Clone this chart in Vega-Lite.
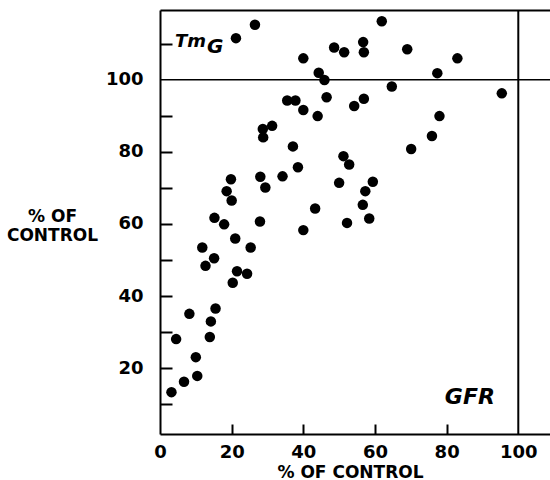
{
  "$schema": "https://vega.github.io/schema/vega-lite/v6.json",
  "width": 390,
  "height": 424,
  "autosize": "none",
  "padding": {"left": 160, "top": 10, "right": 0, "bottom": 46},
  "background": "white",
  "config": {
    "view": {"stroke": null},
    "font": "DejaVu Sans",
    "axis": {"grid": false, "domainColor": "black", "tickColor": "black", "labelColor": "black", "titleColor": "black", "labelFont": "DejaVu Sans", "titleFont": "DejaVu Sans", "labelFontWeight": "bold", "titleFontWeight": "bold"}
  },
  "resolve": {"axis": {"x": "independent", "y": "independent"}},
  "layer": [
    {
      "data": {"values": [
        {"x": 21.2, "y": 111.5}, {"x": 26.5, "y": 115.2}, {"x": 40.0, "y": 105.9}, {"x": 48.6, "y": 108.9},
        {"x": 44.3, "y": 101.9}, {"x": 45.9, "y": 99.9}, {"x": 35.5, "y": 94.2}, {"x": 37.8, "y": 94.2},
        {"x": 46.5, "y": 95.1}, {"x": 40.0, "y": 91.6}, {"x": 44.0, "y": 89.9}, {"x": 51.4, "y": 107.6},
        {"x": 61.9, "y": 116.2}, {"x": 56.7, "y": 110.4}, {"x": 56.9, "y": 107.6}, {"x": 69.0, "y": 108.4},
        {"x": 83.0, "y": 105.9}, {"x": 77.4, "y": 101.8}, {"x": 64.7, "y": 98.1}, {"x": 56.9, "y": 94.7},
        {"x": 54.2, "y": 92.7}, {"x": 95.4, "y": 96.2}, {"x": 78.0, "y": 89.9}, {"x": 28.7, "y": 86.3},
        {"x": 31.3, "y": 87.2}, {"x": 28.8, "y": 84.0}, {"x": 37.1, "y": 81.5}, {"x": 51.2, "y": 78.8},
        {"x": 38.5, "y": 75.7}, {"x": 34.2, "y": 73.2}, {"x": 28.0, "y": 73.1}, {"x": 29.4, "y": 70.1},
        {"x": 19.8, "y": 72.4}, {"x": 18.6, "y": 69.1}, {"x": 20.0, "y": 66.5}, {"x": 50.0, "y": 71.4},
        {"x": 43.3, "y": 64.3}, {"x": 15.2, "y": 61.7}, {"x": 17.9, "y": 59.9}, {"x": 27.9, "y": 60.7},
        {"x": 75.9, "y": 84.4}, {"x": 70.1, "y": 80.8}, {"x": 52.8, "y": 76.5}, {"x": 59.4, "y": 71.7},
        {"x": 57.3, "y": 69.1}, {"x": 56.6, "y": 65.3}, {"x": 58.4, "y": 61.5}, {"x": 52.2, "y": 60.3},
        {"x": 40.0, "y": 58.3}, {"x": 21.0, "y": 56.0}, {"x": 11.8, "y": 53.5}, {"x": 25.3, "y": 53.5},
        {"x": 15.1, "y": 50.5}, {"x": 12.7, "y": 48.4}, {"x": 21.5, "y": 46.9}, {"x": 24.3, "y": 46.2},
        {"x": 20.3, "y": 43.7}, {"x": 8.2, "y": 35.1}, {"x": 15.5, "y": 36.6}, {"x": 14.2, "y": 33.0},
        {"x": 4.5, "y": 28.1}, {"x": 13.9, "y": 28.7}, {"x": 10.0, "y": 23.1}, {"x": 10.4, "y": 17.9},
        {"x": 6.7, "y": 16.3}, {"x": 3.2, "y": 13.4}
      ]},
      "mark": {"type": "circle", "color": "black", "opacity": 1, "size": 110},
      "encoding": {
        "x": {"field": "x", "type": "quantitative",
          "scale": {"domain": [0, 108.85], "nice": false, "zero": false},
          "axis": {"orient": "bottom", "values": [0, 20, 40, 60, 80, 100], "ticks": false, "domainWidth": 2,
            "labelPadding": 9, "labelFontSize": 18, "labelFlush": false, "labelOverlap": false,
            "title": "% OF CONTROL", "titleFontSize": 17, "titleX": 190, "titleY": 43, "titleAlign": "center", "titleBaseline": "alphabetic"}},
        "y": {"field": "y", "type": "quantitative",
          "scale": {"domain": [1.8, 119.3], "nice": false, "zero": false},
          "axis": {"orient": "left", "values": [20, 40, 60, 80, 100], "ticks": false, "domainWidth": 2,
            "labelPadding": 17, "labelFontSize": 18, "labelFlush": false, "labelOverlap": false,
            "title": ["% OF", "CONTROL"], "titleFontSize": 17, "titleLineHeight": 19, "titleAngle": 0, "titleX": -108, "titleY": 198, "titleAlign": "center", "titleBaseline": "top"}}
      }
    },
    {
      "data": {"values": [{"y": 100}]},
      "mark": {"type": "rule", "color": "black", "strokeWidth": 1.5},
      "encoding": {"y": {"field": "y", "type": "quantitative",
        "axis": {"orient": "right", "offset": -390, "values": [10, 20, 30, 40, 50, 60, 70, 80, 90, 110], "tickSize": 12, "tickWidth": 2,
          "labels": false, "domain": false, "title": null}}}
    },
    {
      "data": {"values": [{"x": 100}]},
      "mark": {"type": "rule", "color": "black", "strokeWidth": 2},
      "encoding": {"x": {"field": "x", "type": "quantitative",
        "axis": {"orient": "top", "labels": false, "ticks": false, "domain": true, "domainWidth": 2, "title": null}}}
    },
    {
      "data": {"values": [
        {"x": 4.2, "y": 109.1, "label": "Tm", "sz": "a"},
        {"x": 13.1, "y": 107.4, "label": "G", "sz": "b"},
        {"x": 79.5, "y": 10.1, "label": "GFR", "sz": "c"}
      ]},
      "mark": {"type": "text", "align": "left", "baseline": "alphabetic", "fontStyle": "italic", "fontWeight": "bold", "font": "DejaVu Sans", "color": "black"},
      "encoding": {
        "x": {"field": "x", "type": "quantitative",
          "axis": {"orient": "top", "offset": -424, "values": [20, 40, 60, 80], "tickSize": 10, "tickWidth": 2,
            "labels": false, "domain": false, "title": null}},
        "y": {"field": "y", "type": "quantitative", "axis": null},
        "text": {"field": "label"},
        "size": {"field": "sz", "type": "nominal", "scale": {"domain": ["a", "b", "c"], "range": [18, 22, 22]}, "legend": null}
      }
    }
  ]
}
